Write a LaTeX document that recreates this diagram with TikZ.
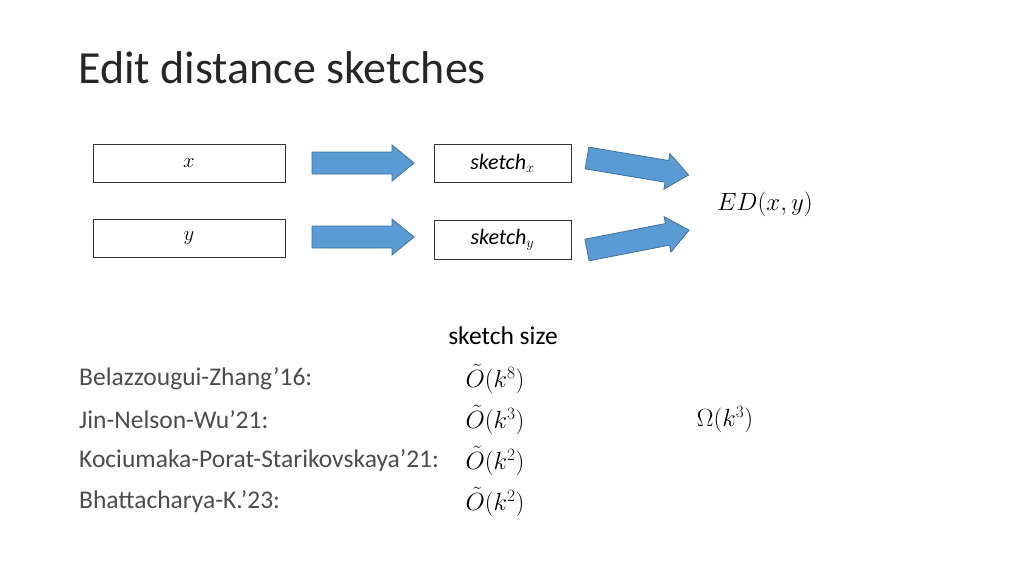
\documentclass[tikz,border=0pt]{standalone}
\usepackage{fontspec}
\setmainfont{Carlito}
\usepackage{amsmath}
\begin{document}
\begin{tikzpicture}[x=1pt,y=-1pt,
  inbox/.style={draw=black!80,line width=0.8pt,minimum height=38pt,inner sep=0pt,font=\fontsize{22}{26}\selectfont},
  lbl/.style={anchor=west,font=\fontsize{25.5}{30}\selectfont,text=black!70,inner sep=0pt},
  val/.style={font=\fontsize{23}{28}\selectfont,inner sep=0pt},
  pics/barrow/.style={code={
    \fill[fill={rgb,255:red,91;green,155;blue,213},draw={rgb,255:red,65;green,113;blue,156},line width=0.8pt]
      (0,-11) -- (#1-22,-11) -- (#1-22,-18) -- (#1,0) -- (#1-22,18) -- (#1-22,11) -- (0,11) -- cycle;}}]
\useasboundingbox (0,0) rectangle (1024,576);
\node[anchor=west,font=\fontsize{46}{52}\selectfont,text=black!85,inner sep=0pt] (title) at (78,68) {Edit distance sketches};
\node[inbox,minimum width=192pt] (x) at (189,163.5) {$x$};
\node[inbox,minimum width=192pt] (y) at (189,238) {$y$};
\node[inbox,minimum width=137pt] (sx) at (502.5,163) {\textit{sketch}$_x$};
\node[inbox,minimum width=137pt,minimum height=39pt] (sy) at (502.5,239.5) {\textit{sketch}$_y$};
\pic at (312,163) {barrow=102};
\pic at (312,237) {barrow=102};
\pic[rotate=-9.5] at (587,158) {barrow=103};
\pic[rotate=11] at (587,250) {barrow=104};
\node[val] (ed) at (765,204) {$ED(x,y)$};
\node[val,font=\fontsize{25.5}{30}\selectfont] (ss) at (503,336) {sketch size};
\node[lbl] (r1) at (79,379) {Belazzougui-Zhang’16:};
\node[lbl] (r2) at (79,420) {Jin-Nelson-Wu’21:};
\node[lbl] (r3) at (79,461) {Kociumaka-Porat-Starikovskaya’21:};
\node[lbl] (r4) at (79,502) {Bhattacharya-K.’23:};
\node[val] (v1) at (495,379) {$\tilde O(k^8)$};
\node[val] (v2) at (495,420) {$\tilde O(k^3)$};
\node[val] (v3) at (495,461) {$\tilde O(k^2)$};
\node[val] (v4) at (495,502) {$\tilde O(k^2)$};
\node[val] (lb) at (725,420) {$\Omega(k^3)$};
\end{tikzpicture}
\end{document}
